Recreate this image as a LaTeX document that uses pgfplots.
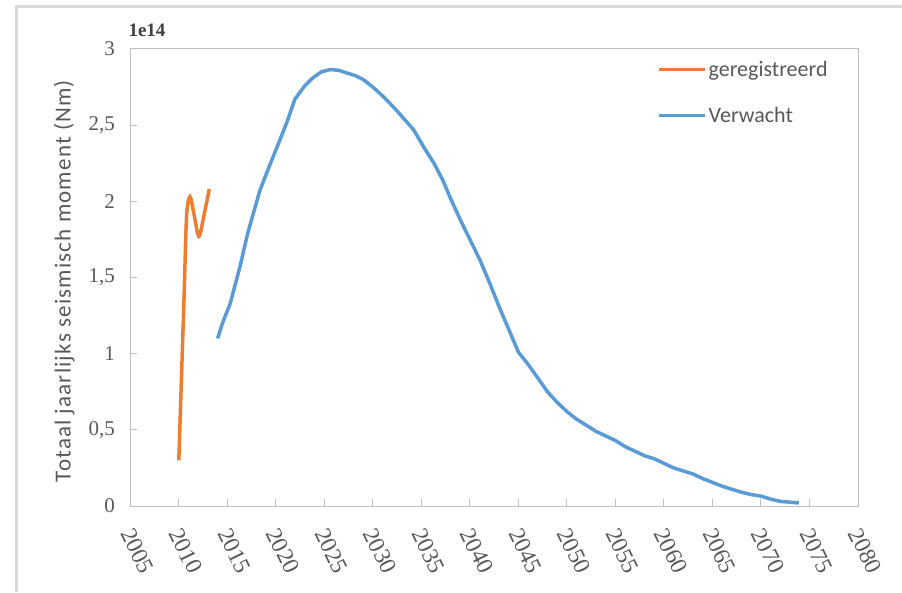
\documentclass[border=0pt]{standalone}
\usepackage{fontspec}
\setmainfont{Carlito}
\newfontfamily\tickfont{Liberation Serif}
\newfontfamily\labfont[LetterSpace=5]{Carlito}
\usepackage{pgfplots}
\pgfplotsset{compat=1.18}
\definecolor{bl}{HTML}{5B9BD5}
\definecolor{og}{HTML}{ED7D31}
\definecolor{txt}{HTML}{595959}
\definecolor{ax}{HTML}{BFBFBF}
\definecolor{fr}{HTML}{D9D9D9}
\begin{document}
\begin{tikzpicture}
\useasboundingbox (0pt,0pt) rectangle (902pt,592pt);
\fill[white] (0pt,0pt) rectangle (902pt,592pt);
\draw[fr, line width=2.5pt] (16.7pt,0pt) -- (16.7pt,585.3pt) -- (902pt,585.3pt);
\begin{axis}[
  at={(130.3pt,86pt)}, anchor=south west,
  scale only axis, width=727.7pt, height=457pt,
  xmin=2005, xmax=2080, ymin=0, ymax=3,
  xtick={2005,2010,...,2080},
  xticklabels={2005,2010,2015,2020,2025,2030,2035,2040,2045,2050,2055,2060,2065,2070,2075,2080},
  ytick={0,0.5,1,1.5,2,2.5,3},
  yticklabels={0,{0,5},1,{1,5},2,{2,5},3},
  tick align=inside, major tick length=7pt, tick pos=left,
  axis line style={ax, line width=1pt},
  every tick/.style={ax, line width=1pt},
  ticklabel style={font=\tickfont\fontsize{21}{21}\selectfont, text=txt},
  yticklabel style={xshift=-12pt},
  xticklabel style={font=\tickfont\fontsize{23.5}{23.5}\selectfont, xshift=4pt, yshift=-20pt, rotate=-64, anchor=north west, inner sep=0pt},
  ylabel={Totaal jaarlijks seismisch moment (Nm)},
  ylabel style={font=\labfont\fontsize{23}{23}\selectfont, text=txt, at={(axis description cs:-0.091,0.492)}, anchor=center},
  legend image code/.code={\draw[#1] (0pt,0pt) -- (46pt,0pt);},
  legend style={at={(axis description cs:0.7238,0.978)}, anchor=north west, draw=none, fill=none,
    inner sep=0pt, font=\fontsize{22}{22}\selectfont, text=txt, row sep=25pt},
  legend cell align=left,
]
\addplot[og, line width=3.5pt, smooth, tension=0.5] coordinates {
(2010,0.30) (2010.53,1.35) (2010.8,1.9) (2011.15,2.03) (2011.55,1.92) (2012.07,1.77) (2012.6,1.91) (2013.14,2.08)
};
\addlegendentry{geregistreerd}
\addplot[bl, line width=3.5pt] coordinates {
(2014.0,1.10) (2014.5,1.20) (2015.3,1.33) (2016.3,1.57) (2017.1,1.79) (2018.35,2.07) (2019.2,2.21)
(2020.4,2.40) (2021.2,2.53) (2021.96,2.67) (2023.0,2.76) (2023.8,2.81) (2024.7,2.85) (2025.6,2.865)
(2026.5,2.86) (2027.3,2.843) (2028.2,2.825) (2029.0,2.80) (2030.0,2.75) (2030.7,2.71) (2031.5,2.66)
(2032.4,2.60) (2033.3,2.535) (2034.2,2.47) (2035.3,2.35) (2036.3,2.25) (2037.2,2.14) (2038,2.02)
(2039,1.88) (2040,1.75) (2041,1.62) (2042,1.47) (2043,1.31) (2044,1.16) (2045,1.01) (2046,0.93)
(2047,0.84) (2048,0.75) (2049,0.68) (2050,0.62) (2051,0.57) (2052,0.53) (2053,0.49) (2054,0.46)
(2055,0.43) (2056,0.39) (2057,0.36) (2058,0.33) (2059,0.31) (2060,0.28) (2061,0.25) (2062,0.23)
(2063,0.21) (2064,0.18) (2065,0.155) (2066,0.13) (2067,0.11) (2068,0.09) (2069,0.075) (2070,0.065)
(2071,0.045) (2072,0.03) (2073,0.025) (2073.9,0.02)
};
\addlegendentry{Verwacht}
\end{axis}
\node[font=\tickfont\bfseries\fontsize{19}{19}\selectfont, text=black!75, inner sep=0pt] at (147pt,562pt) {1e14};
\end{tikzpicture}
\end{document}
